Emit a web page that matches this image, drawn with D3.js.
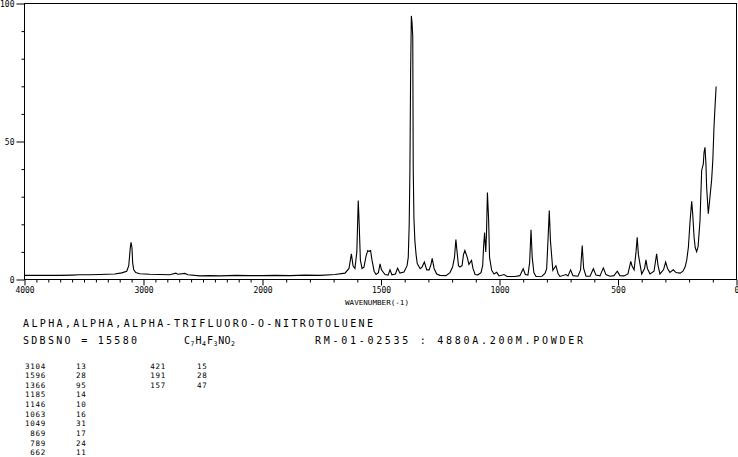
<!DOCTYPE html>
<html>
<head>
<meta charset="utf-8">
<script src="https://cdn.jsdelivr.net/npm/d3@7/dist/d3.min.js"></script>
<style>
  html, body { margin: 0; padding: 0; background: #fff; }
  svg { display: block; }
  text { font-family: "DejaVu Sans Mono", "Liberation Mono", monospace; fill: #000; }
</style>
</head>
<body>
<script>
// ---------------- data ----------------
const wavenumber = [
  4000,3705,3604,3537,3453,3368,3242,3183,3141,3124,3112,3105,3097,3091,3082,3065,3032,2947,2863,2779,2728,2712,2653,2627,2526,2442,2358,2223,2105,2000,
  1947,1884,1821,1758,1694,1652,1635,1625,1618,1610,1602,1596,1592,1587,1580,1572,1563,1556,1551,1544,1538,1529,1521,1511,1504,1498,
  1483,1470,1462,1454,1439,1430,1420,1403,1390,1385,1381,1378,1375,1372,1369,1366,1364,1361,1357,1352,1347,
  1335,1327,1317,1307,1297,1289,1284,1276,1265,1251,1226,1209,1198,1190,1184,1179,1173,1167,1158,1152,1146,1136,1129,1118,1112,1103,1091,1078,1071,1067,1063,1058,1055,1051,1046,1042,
  1033,1023,1012,1002,981,968,935,914,900,891,880,873,867,862,855,846,821,808,801,795,790,785,775,762,753,745,
  719,711,700,690,669,658,651,645,635,618,604,593,576,562,551,534,517,503,492,475,458,446,441,432,424,419,414,400,
  388,382,376,365,348,337,331,323,308,299,291,281,267,255,238,226,217,210,203,196,189,185,179,174,168,162,154,147,140,137,133,129,126,119,112,105,100,95,91,86
];
const intensity = [
  1.5,1.5,1.6,1.7,1.7,1.8,2.0,2.4,3,5,11,13.5,11.5,6,3.5,2.5,2.1,1.9,1.8,1.7,2.3,1.9,2.2,1.7,1.3,1.4,1.3,1.5,1.4,1.4,
  1.5,1.4,1.6,1.5,1.8,2.3,4,9.3,5,4,10,28.6,20,7,4,4.5,8.5,10.5,10.2,10.5,7,3,1.8,2.5,5.7,3.5,
  1.8,1.6,3.5,1.7,2,4.1,2.3,2.7,5,8,20,39.5,75,95.5,93,88,40,22,14,9,5.8,
  3.9,4.5,6.3,3.5,3.5,5.5,7.7,4,2,1.5,1.4,2.5,4.5,8,14.5,10,5,4.5,5,9,10.5,8,5.5,6.9,4,1.8,1.7,2.5,5,12,17,10,16,31.5,22,8,
  3.3,2,2.6,1.3,1.8,1.1,1.1,1.4,3.9,1.8,1.6,6,18,8,2.5,1.1,1.2,2.2,3.9,15,25,14,3.3,5,2.2,1.1,
  1.8,1.3,3.5,1.4,1.2,3.5,12.3,4,1.2,1.2,3.9,1.6,1.3,4.2,1.8,1.2,1.4,3,1.4,1.3,2.0,6.6,5,3.5,10,15.3,9,2,
  4,7.1,4,2,3,9.3,5,2,3.5,6.3,4,2.6,3.5,2.5,2.3,3,4.5,7,11.7,21,28.3,24,15.3,11.5,10.1,12,21.4,39.5,41.9,46,47.9,42,33.4,23.8,29.8,36,43.1,55.2,62,69.9
];
const xTickLabels = [4000, 3000, 2000, 1500, 1000, 500, 0];
const yTickLabels = [0, 50, 100];
const xLabel = "WAVENUMBER(-1)";
const compoundName = "ALPHA,ALPHA,ALPHA-TRIFLUORO-O-NITROTOLUENE";
const sdbsText = "SDBSNO = 15580";
const formulaParts = [["C", false], ["7", true], ["H", false], ["4", true], ["F", false], ["3", true], ["NO", false], ["2", true]];
const conditionText = "RM-01-02535 : 4880A.200M.POWDER";
const peakWn = [3104, 1596, 1366, 1185, 1146, 1063, 1049, 869, 789, 662, 421, 191, 157];
const peakInt = [13, 28, 95, 14, 10, 16, 31, 17, 24, 11, 15, 28, 47];

// ---------------- chart ----------------
const W = 738, H = 457;
const svg = d3.select("body").append("svg").attr("width", W).attr("height", H);

const x = d3.scaleLinear().domain([4000, 2000, 0]).range([24.5, 262.5, 736.5]);
const y = d3.scaleLinear().domain([0, 100]).range([279.5, 3.5]);

// frame
svg.append("rect")
  .attr("x", x(4000)).attr("y", y(100))
  .attr("width", x(0) - x(4000)).attr("height", y(0) - y(100))
  .attr("fill", "none").attr("stroke", "#000").attr("stroke-width", 1);

// x axis: minor ticks
const xMinor = d3.range(0, 4001, 100).filter(v => !xTickLabels.includes(v));
svg.append("g").attr("transform", `translate(0,${y(0)})`)
  .call(d3.axisBottom(x).tickValues(xMinor).tickSize(3).tickFormat(""))
  .call(g => g.select(".domain").remove())
  .call(g => g.selectAll("line").attr("stroke", "#000").attr("stroke-width", 1));
// x axis: major ticks + labels
svg.append("g").attr("transform", `translate(0,${y(0)})`)
  .call(d3.axisBottom(x).tickValues(xTickLabels).tickSize(6).tickPadding(2).tickFormat(d => d))
  .call(g => g.select(".domain").remove())
  .call(g => g.selectAll("line").attr("stroke", "#000").attr("stroke-width", 1))
  .call(g => g.selectAll("text").attr("font-size", 8).attr("font-family", "DejaVu Sans Mono")
      .attr("fill", "#000").attr("dy", "0.71em"));

// y axis: minor ticks
const yMinor = d3.range(10, 100, 10).filter(v => !yTickLabels.includes(v));
svg.append("g").attr("transform", `translate(${x(4000)},0)`)
  .call(d3.axisLeft(y).tickValues(yMinor).tickSize(3).tickFormat(""))
  .call(g => g.select(".domain").remove())
  .call(g => g.selectAll("line").attr("stroke", "#000").attr("stroke-width", 1));
// y axis: major
svg.append("g").attr("transform", `translate(${x(4000)},0)`)
  .call(d3.axisLeft(y).tickValues(yTickLabels).tickSize(8).tickPadding(2).tickFormat(d => d))
  .call(g => g.select(".domain").remove())
  .call(g => g.selectAll("line").attr("stroke", "#000").attr("stroke-width", 1))
  .call(g => g.selectAll("text").attr("font-size", 8).attr("font-family", "DejaVu Sans Mono").attr("fill", "#000"));

// x axis title
svg.append("text").attr("x", 377).attr("y", 304.5).attr("text-anchor", "middle")
  .attr("font-size", 7).attr("textLength", 64).attr("lengthAdjust", "spacingAndGlyphs").text(xLabel);

// spectrum
const pts = wavenumber.map((w, i) => [w, intensity[i]]);
svg.append("path")
  .datum(pts)
  .attr("fill", "none").attr("stroke", "#000").attr("stroke-width", 1.1)
  .attr("stroke-linejoin", "miter")
  .attr("d", d3.line().x(d => x(d[0])).y(d => y(d[1])));

// header texts
svg.append("text").attr("x", 23).attr("y", 327).attr("font-size", 10)
  .attr("textLength", 350).attr("lengthAdjust", "spacing").text(compoundName);
svg.append("text").attr("x", 23).attr("y", 344).attr("font-size", 10)
  .attr("textLength", 114).attr("lengthAdjust", "spacing").text(sdbsText);
const f = svg.append("text").attr("x", 184).attr("y", 344).attr("font-size", 10);
formulaParts.forEach(([s, sub]) => {
  const t = f.append("tspan").text(s);
  if (sub) t.attr("font-size", 6.5).attr("dy", 2).attr("dx", 0.5);
  else t.attr("dy", 0);
});
// reset baseline after subscripts
f.selectAll("tspan").each(function(d, i, nodes) {
  const part = formulaParts[i];
  const prev = i > 0 ? formulaParts[i - 1] : null;
  if (!part[1] && prev && prev[1]) d3.select(this).attr("dy", -2).attr("dx", 1);
});
svg.append("text").attr("x", 315).attr("y", 344).attr("font-size", 10)
  .attr("textLength", 268).attr("lengthAdjust", "spacing").text(conditionText);

// peak table
const rowH = 9.63, row0 = 368.5;
peakWn.forEach((w, i) => {
  const col = i < 10 ? 0 : 1;
  const r = i < 10 ? i : i - 10;
  const yy = row0 + r * rowH;
  const wnRight = col === 0 ? 46 : 166;
  const intLeft = col === 0 ? 76 : 197;
  svg.append("text").attr("x", wnRight).attr("y", yy).attr("text-anchor", "end")
    .attr("font-size", 7.5).attr("letter-spacing", 0.75).text(w);
  svg.append("text").attr("x", intLeft).attr("y", yy)
    .attr("font-size", 7.5).attr("letter-spacing", 0.75).text(peakInt[i]);
});
</script>
</body>
</html>
